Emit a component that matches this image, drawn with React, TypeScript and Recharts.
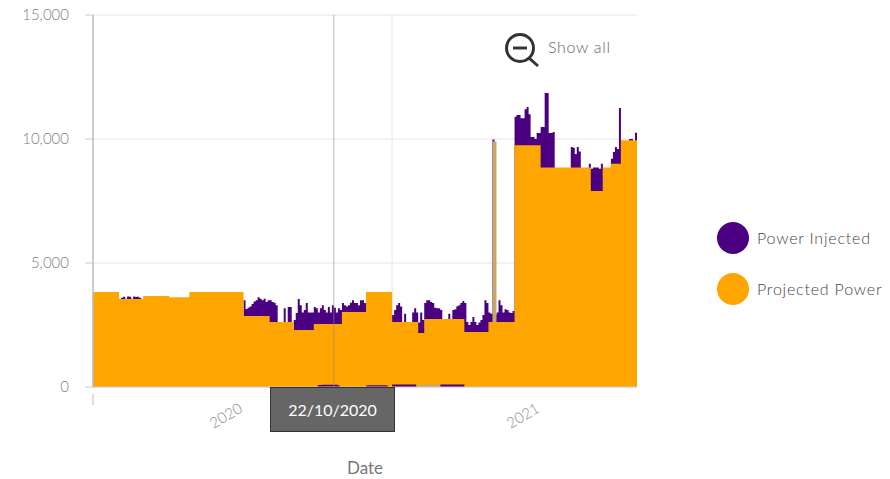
import React from 'react';
import {
  ComposedChart,
  Area,
  XAxis,
  YAxis,
  Legend,
  CartesianGrid,
  ReferenceLine
} from 'recharts';

const INJECTED_NAME = 'Power Injected';
const PROJECTED_NAME = 'Projected Power';
const PURPLE = '#4b0082';
const ORANGE = '#ffa500';
const TAN = '#c8a868';

const yTicks = [0, 5000, 10000, 15000];
const xTicks = [0, 66, 214];
const xTickLabels = ['', '2020', '2021'];
const selectedDate = '22/10/2020';
const selectedIndex = 120;
const gridIndex = 149;
const spikeIndexes = [199, 200];
const spikeValue = 9900;

// readings taken left to right, ten to a row
const injected = [
  0, 0, 0, 0, 0, 0, 0, 0, 0, 0,
  0, 0, 0, 0, 3600, 3640, 3560, 3650, 3640, 3560,
  3650, 3630, 3640, 3600, 0, 0, 0, 0, 0, 0,
  0, 0, 0, 0, 0, 0, 0, 0, 0, 0,
  0, 0, 0, 0, 0, 0, 0, 0, 0, 0,
  0, 0, 0, 0, 0, 0, 0, 0, 0, 0,
  0, 0, 0, 0, 0, 0, 0, 0, 0, 0,
  0, 0, 0, 0, 0, 3500, 3150, 3200, 3250, 3350,
  3450, 3500, 3620, 3560, 3500, 3560, 3430, 3500, 3500, 3430,
  3400, 3300, 0, 0, 0, 3180, 0, 3230, 3230, 0,
  2700, 2980, 3550, 3300, 3000, 3100, 3390, 3000, 3000, 3000,
  3230, 3180, 3000, 3180, 3300, 3100, 3000, 3230, 3000, 3300,
  3200, 3000, 3180, 3100, 3390, 3300, 3250, 3300, 3400, 3500,
  3390, 3390, 3300, 3500, 3500, 3390, 0, 0, 0, 0,
  0, 0, 0, 0, 0, 0, 0, 0, 0, 2900,
  3100, 3300, 3390, 3250, 0, 2950, 0, 0, 0, 3000,
  3180, 3000, 2600, 3000, 2700, 3390, 3500, 3500, 3430, 3390,
  3200, 3180, 3180, 3100, 0, 0, 0, 2950, 0, 3100,
  3140, 3260, 3300, 3390, 3470, 3390, 2620, 2500, 2620, 2820,
  2620, 2500, 2600, 2700, 2900, 3500, 3390, 3000, 2950, 9980,
  2900, 3000, 3500, 3300, 3000, 3140, 3100, 3000, 2980, 3060,
  10900, 10970, 10970, 10840, 10840, 11200, 11290, 11000, 10080, 10080,
  10000, 10240, 10240, 10480, 10480, 11850, 11850, 10240, 10240, 10280,
  0, 0, 0, 0, 0, 0, 0, 0, 9680, 9650,
  9400, 9680, 9500, 0, 0, 0, 0, 9000, 8800, 8850,
  8850, 8850, 8800, 9000, 0, 0, 0, 0, 9200, 9480,
  9680, 9600, 11250, 0, 0, 0, 0, 10000, 10000, 0,
  10250, 10280
];

const projected = [
  3830, 3830, 3830, 3830, 3830, 3830, 3830, 3830, 3830, 3830,
  3830, 3830, 3830, 3550, 3550, 3550, 3550, 3550, 3550, 3550,
  3550, 3550, 3550, 3550, 3550, 3670, 3670, 3670, 3670, 3670,
  3670, 3670, 3670, 3670, 3670, 3670, 3670, 3670, 3620, 3620,
  3620, 3620, 3620, 3620, 3620, 3620, 3620, 3620, 3830, 3830,
  3830, 3830, 3830, 3830, 3830, 3830, 3830, 3830, 3830, 3830,
  3830, 3830, 3830, 3830, 3830, 3830, 3830, 3830, 3830, 3830,
  3830, 3830, 3830, 3830, 3830, 2860, 2860, 2860, 2860, 2860,
  2860, 2860, 2860, 2860, 2860, 2860, 2860, 2860, 2620, 2620,
  2620, 2620, 2620, 2620, 2620, 2620, 2620, 2620, 2620, 2620,
  2300, 2300, 2300, 2300, 2300, 2300, 2300, 2300, 2300, 2300,
  2540, 2540, 2540, 2540, 2540, 2540, 2540, 2540, 2540, 2540,
  2540, 2540, 2540, 2540, 3020, 3020, 3020, 3020, 3020, 3020,
  3020, 3020, 3020, 3020, 3020, 3020, 3830, 3830, 3830, 3830,
  3830, 3830, 3830, 3830, 3830, 3830, 3830, 3830, 3830, 2620,
  2620, 2620, 2620, 2620, 2620, 2620, 2620, 2620, 2620, 2620,
  2620, 2620, 2180, 2180, 2180, 2740, 2740, 2740, 2740, 2740,
  2740, 2740, 2740, 2740, 2740, 2740, 2740, 2740, 2740, 2740,
  2740, 2740, 2740, 2740, 2740, 2220, 2220, 2220, 2220, 2220,
  2220, 2220, 2220, 2220, 2220, 2220, 2220, 2620, 2620, 2620,
  2620, 2620, 2620, 2620, 2620, 2620, 2620, 2620, 2620, 2620,
  9750, 9750, 9750, 9750, 9750, 9750, 9750, 9750, 9750, 9750,
  9750, 9750, 9750, 8850, 8850, 8850, 8850, 8850, 8850, 8850,
  8850, 8850, 8850, 8850, 8850, 8850, 8850, 8850, 8850, 8850,
  8850, 8850, 8850, 8850, 8850, 8850, 8850, 8850, 7900, 7900,
  7900, 7900, 7900, 7900, 8850, 8850, 8850, 8850, 9000, 9000,
  9000, 9000, 9000, 9950, 9950, 9950, 9950, 9950, 9950, 9950,
  9950, 9950
];

// injected readings close to zero that sit on top of the projected block
const injectedLow = [
  0, 0, 0, 0, 0, 0, 0, 0, 0, 0,
  0, 0, 0, 0, 0, 0, 0, 0, 0, 0,
  0, 0, 0, 0, 0, 0, 0, 0, 0, 0,
  0, 0, 0, 0, 0, 0, 0, 0, 0, 0,
  0, 0, 0, 0, 0, 0, 0, 0, 0, 0,
  0, 0, 0, 0, 0, 0, 0, 0, 0, 0,
  0, 0, 0, 0, 0, 0, 0, 0, 0, 0,
  0, 0, 0, 0, 0, 0, 0, 0, 0, 0,
  0, 0, 0, 0, 0, 0, 0, 0, 0, 0,
  0, 0, 0, 0, 0, 0, 0, 0, 0, 0,
  0, 0, 0, 0, 0, 0, 0, 0, 0, 0,
  0, 0, 80, 80, 90, 90, 90, 90, 90, 90,
  90, 90, 60, 0, 0, 0, 0, 0, 0, 0,
  0, 0, 0, 0, 0, 0, 60, 70, 70, 70,
  70, 70, 70, 70, 70, 70, 60, 0, 0, 100,
  100, 100, 100, 100, 100, 100, 100, 100, 100, 100,
  100, 0, 0, 0, 0, 0, 0, 0, 0, 0,
  0, 0, 0, 100, 100, 100, 100, 100, 100, 100,
  100, 100, 100, 100, 100, 0, 0, 0, 0, 0,
  0, 0, 0, 0, 0, 0, 0, 0, 0, 0,
  0, 0, 0, 0, 0, 0, 0, 0, 0, 0,
  0, 0, 0, 0, 0, 0, 0, 0, 0, 0,
  0, 0, 0, 0, 0, 0, 0, 0, 0, 0,
  0, 0, 0, 0, 0, 0, 0, 0, 0, 0,
  0, 0, 0, 0, 0, 0, 0, 0, 0, 0,
  0, 0, 0, 0, 0, 0, 0, 0, 0, 0,
  0, 0, 0, 0, 0, 0, 0, 0, 0, 0,
  0, 0
];

// where the two series overlap and come out as a muddy tan
const overlapLow = [
  0, 0, 0, 0, 0, 0, 0, 0, 0, 0,
  0, 0, 0, 0, 0, 0, 0, 0, 0, 0,
  0, 0, 0, 0, 0, 0, 0, 0, 0, 0,
  0, 0, 0, 0, 0, 0, 0, 0, 0, 0,
  0, 0, 0, 0, 0, 0, 0, 0, 0, 0,
  0, 0, 0, 0, 0, 0, 0, 0, 0, 0,
  0, 0, 0, 0, 0, 0, 0, 0, 0, 0,
  0, 0, 0, 0, 0, 0, 0, 0, 0, 0,
  0, 0, 0, 0, 0, 0, 0, 0, 0, 0,
  0, 0, 0, 0, 0, 0, 0, 0, 0, 0,
  0, 0, 0, 0, 0, 0, 0, 0, 0, 0,
  0, 0, 0, 0, 0, 0, 0, 0, 0, 0,
  0, 0, 0, 0, 0, 0, 0, 0, 0, 0,
  0, 0, 0, 0, 0, 0, 0, 0, 0, 0,
  0, 0, 0, 0, 0, 0, 0, 0, 0, 0,
  0, 0, 0, 0, 0, 0, 0, 0, 0, 0,
  0, 0, 100, 100, 100, 100, 100, 100, 100, 100,
  100, 100, 100, 0, 0, 0, 0, 0, 0, 0,
  0, 0, 0, 0, 0, 0, 0, 0, 0, 0,
  0, 0, 0, 0, 0, 0, 0, 0, 0, 0,
  0, 0, 0, 0, 0, 0, 0, 0, 0, 0,
  0, 0, 0, 0, 0, 0, 0, 0, 0, 0,
  0, 0, 0, 0, 0, 0, 0, 0, 0, 0,
  0, 0, 0, 0, 0, 0, 0, 0, 0, 0,
  0, 0, 0, 0, 0, 0, 0, 0, 0, 0,
  0, 0, 0, 0, 0, 0, 0, 0, 0, 0,
  0, 0, 0, 0, 0, 0, 0, 0, 0, 0,
  0, 0
];

const chartData = projected.map((value, i) => ({
  index: i,
  injected: injected[i],
  projected: value,
  spike: spikeIndexes.includes(i) ? spikeValue : 0,
  injectedLow: injectedLow[i],
  overlapLow: overlapLow[i]
}));

const FONT = 'Lato, "Open Sans", sans-serif';

const YearTick = (props: any) => {
  const { x, y, payload } = props;
  const label = xTickLabels[xTicks.indexOf(payload.value)];
  if (!label) {
    return <line x1={x} x2={x} y1={y - 1} y2={y + 10} stroke="#bbbbbb" />;
  }
  return (
    <text
      x={x}
      y={y + 26}
      textAnchor="middle"
      fontFamily={FONT}
      fontSize={15}
      fontWeight={300}
      fill="#888888"
      transform={`rotate(-30 ${x} ${y + 20})`}
    >
      {label}
    </text>
  );
};

const LegendList = (props: any) => (
  <div
    style={{
      width: 178,
      fontFamily: FONT,
      fontSize: 16,
      fontWeight: 300,
      letterSpacing: 0.8,
      color: '#444444'
    }}
  >
    {props.payload
      .filter((entry: any) => entry.value === INJECTED_NAME || entry.value === PROJECTED_NAME)
      .map((entry: any) => (
        <div
          key={entry.value}
          style={{ display: 'flex', alignItems: 'center', height: 51 }}
        >
          <span
            style={{
              display: 'inline-block',
              width: 32,
              height: 32,
              borderRadius: '50%',
              background: entry.color,
              marginLeft: 5,
              marginRight: 8
            }}
          />
          <span style={{ whiteSpace: 'nowrap' }}>{entry.value}</span>
        </div>
      ))}
  </div>
);

export default function App() {
  return (
    <div style={{ position: 'absolute', left: 0, top: 0, width: 890, height: 479 }}>
      <ComposedChart
        width={890}
        height={479}
        data={chartData}
        margin={{ top: 15, right: 75, left: 0, bottom: 0 }}
      >
        <CartesianGrid stroke="#e4e4e4" verticalValues={[gridIndex]} />
        <XAxis
          dataKey="index"
          type="number"
          domain={[0, 271]}
          ticks={xTicks}
          tick={<YearTick />}
          tickLine={false}
          axisLine={{ stroke: '#cccccc' }}
          height={92}
          interval={0}
          label={{
            value: 'Date',
            position: 'insideBottom',
            offset: 5,
            fontFamily: FONT,
            fontSize: 17,
            fill: '#777777'
          }}
        />
        <YAxis
          type="number"
          domain={[0, 15000]}
          ticks={yTicks}
          width={93}
          tickSize={8}
          tickMargin={16}
          axisLine={{ stroke: '#bbbbbb', strokeWidth: 1.5 }}
          tickLine={{ stroke: '#cccccc' }}
          tick={{ fill: '#808080', fontSize: 15, fontWeight: 300, fontFamily: FONT }}
          tickFormatter={(tick: number) => tick.toLocaleString('en-US')}
        />
        <Legend
          layout="vertical"
          align="right"
          verticalAlign="top"
          wrapperStyle={{ left: 712, top: 212, width: 178 }}
          content={<LegendList />}
        />
        <Area
          type="stepAfter"
          dataKey="injected"
          name={INJECTED_NAME}
          fill={PURPLE}
          fillOpacity={1}
          stroke="none"
          dot={false}
          activeDot={false}
          isAnimationActive={false}
        />
        <Area
          type="stepAfter"
          dataKey="spike"
          name="spike"
          legendType="none"
          fill={TAN}
          fillOpacity={1}
          stroke="none"
          dot={false}
          activeDot={false}
          isAnimationActive={false}
        />
        <Area
          type="stepAfter"
          dataKey="projected"
          name={PROJECTED_NAME}
          fill={ORANGE}
          fillOpacity={1}
          stroke="none"
          dot={false}
          activeDot={false}
          isAnimationActive={false}
        />
        <Area
          type="stepAfter"
          dataKey="injectedLow"
          legendType="none"
          fill={PURPLE}
          fillOpacity={1}
          stroke="none"
          dot={false}
          activeDot={false}
          isAnimationActive={false}
        />
        <Area
          type="stepAfter"
          dataKey="overlapLow"
          legendType="none"
          fill={TAN}
          fillOpacity={1}
          stroke="none"
          dot={false}
          activeDot={false}
          isAnimationActive={false}
        />
        <ReferenceLine x={selectedIndex} stroke="#8a8a8a" strokeOpacity={0.6} />
      </ComposedChart>

      {/* date flag under the crosshair */}
      <div
        style={{
          position: 'absolute',
          left: 270,
          top: 387,
          width: 123,
          height: 43,
          lineHeight: '43px',
          background: '#666666',
          border: '1px solid #333333',
          color: '#ffffff',
          textAlign: 'center',
          fontFamily: FONT,
          fontSize: 16
        }}
      >
        {selectedDate}
      </div>

      {/* zoom reset control */}
      <svg
        style={{ position: 'absolute', left: 500, top: 30 }}
        width={42}
        height={40}
      >
        <circle cx={20} cy={18} r={13.5} fill="none" stroke="#333333" strokeWidth={3} />
        <line x1={13} x2={27} y1={18} y2={18} stroke="#333333" strokeWidth={3} />
        <line x1={29} x2={38} y1={28} y2={36} stroke="#333333" strokeWidth={3} />
      </svg>
      <div
        style={{
          position: 'absolute',
          left: 548,
          top: 37,
          fontFamily: FONT,
          fontSize: 16,
          fontWeight: 300,
          letterSpacing: 0.7,
          color: '#666666'
        }}
      >
        Show all
      </div>
    </div>
  );
}
